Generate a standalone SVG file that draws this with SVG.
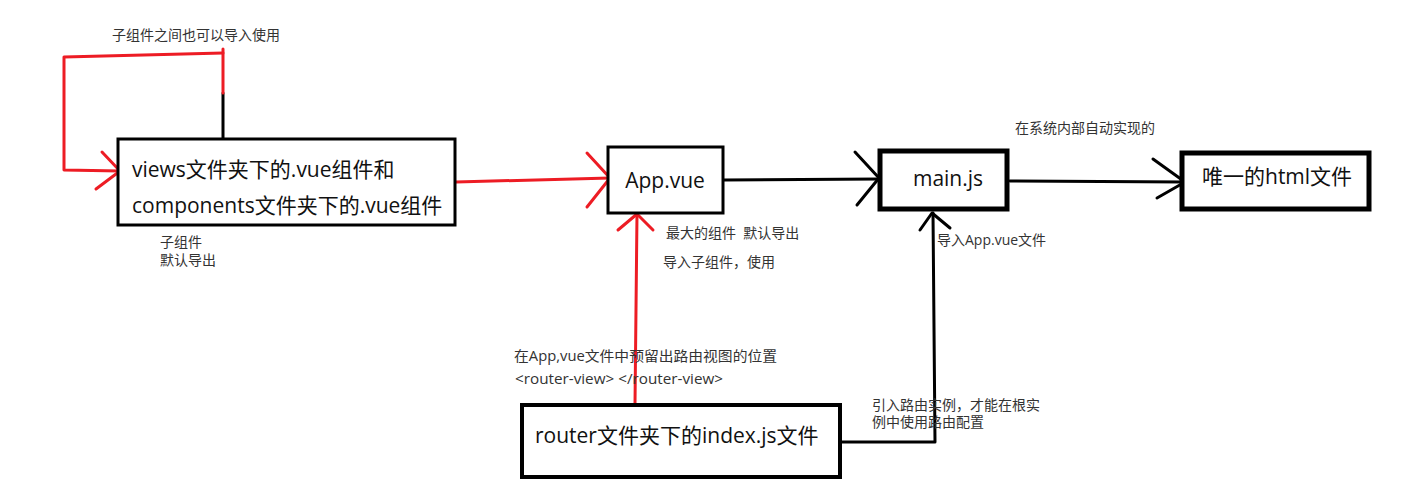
<svg xmlns="http://www.w3.org/2000/svg" width="1408" height="491" viewBox="0 0 1408 491">
<style>
  .box{fill:#fff;stroke:#000}
  .big{font-family:"Open Sans","Noto Sans CJK SC",sans-serif;font-size:21px;fill:#111}
  .small{font-family:"Open Sans","Noto Sans CJK SC",sans-serif;font-size:14px;fill:#333}
  .red{fill:none;stroke:#ed1c24;stroke-width:3;stroke-linecap:round;stroke-linejoin:round}
  .blk{fill:none;stroke:#000;stroke-width:3;stroke-linecap:round;stroke-linejoin:round}
</style>
<rect width="1408" height="491" fill="#fff"/>
<g id="connectors">
  <!-- self loop among child components -->
  <polyline class="blk" points="223,138 223,93"/>
  <polyline class="red" points="223,93 223,49"/>
  <polyline class="red" points="223,53 64,57 64,170 120,171"/>
  <polyline class="red" points="102,152 120,171 96,189"/>
  <!-- views -> App -->
  <polyline class="red" points="456,182 610,178"/>
  <polyline class="red" points="587,153 610,178 587,207"/>
  <!-- App -> main -->
  <polyline class="blk" points="724,180 879,179"/>
  <polyline class="blk" points="855,152 879,178 857,205"/>
  <!-- main -> html -->
  <polyline class="blk" points="1010,181 1185,182"/>
  <polyline class="blk" points="1153,159 1185,182 1157,198"/>
  <!-- router -> App -->
  <polyline class="red" points="635,404 637,214"/>
  <polyline class="red" points="618,230 637,214 653,230"/>
  <!-- router -> main -->
  <polyline class="blk" points="842,442 935,442 933,213"/>
  <polyline class="blk" points="920,230 932,213 950,228"/>
</g>
<g id="views-components">
  <rect class="box" x="118" y="139" width="337" height="86" stroke-width="3"/>
  <text class="big" x="132" y="177">views文件夹下的.vue组件和</text>
  <text class="big" x="132" y="213">components文件夹下的.vue组件</text>
</g>
<g id="app-vue">
  <rect class="box" x="608" y="147" width="115" height="66" stroke-width="3"/>
  <text class="big" x="665" y="188" text-anchor="middle">App.vue</text>
</g>
<g id="main-js">
  <rect class="box" x="880" y="151" width="127" height="58" stroke-width="5"/>
  <text class="big" x="948" y="186" text-anchor="middle">main.js</text>
</g>
<g id="html-file">
  <rect class="box" x="1182" y="153" width="187" height="56" stroke-width="5"/>
  <text class="big" x="1202" y="184">唯一的html文件</text>
</g>
<g id="router-index">
  <rect class="box" x="522" y="405" width="318" height="72" stroke-width="4"/>
  <text class="big" x="535" y="443">router文件夹下的index.js文件</text>
</g>
<g id="labels">
  <text class="small" x="112" y="40">子组件之间也可以导入使用</text>
  <text class="small" x="160" y="247">子组件</text>
  <text class="small" x="160" y="265">默认导出</text>
  <text class="small" x="666" y="238" xml:space="preserve">最大的组件  默认导出</text>
  <text class="small" x="663" y="267">导入子组件，使用</text>
  <text class="small" x="1015" y="133">在系统内部自动实现的</text>
  <text class="small" x="937" y="245">导入App.vue文件</text>
  <text class="small" x="514" y="361" textLength="263" lengthAdjust="spacingAndGlyphs">在App,vue文件中预留出路由视图的位置</text>
  <text class="small" x="515" y="384" textLength="208" lengthAdjust="spacingAndGlyphs" xml:space="preserve">&lt;router-view&gt; &lt;/router-view&gt;</text>
  <text class="small" x="872" y="410">引入路由实例，才能在根实</text>
  <text class="small" x="872" y="427">例中使用路由配置</text>
</g>
</svg>
